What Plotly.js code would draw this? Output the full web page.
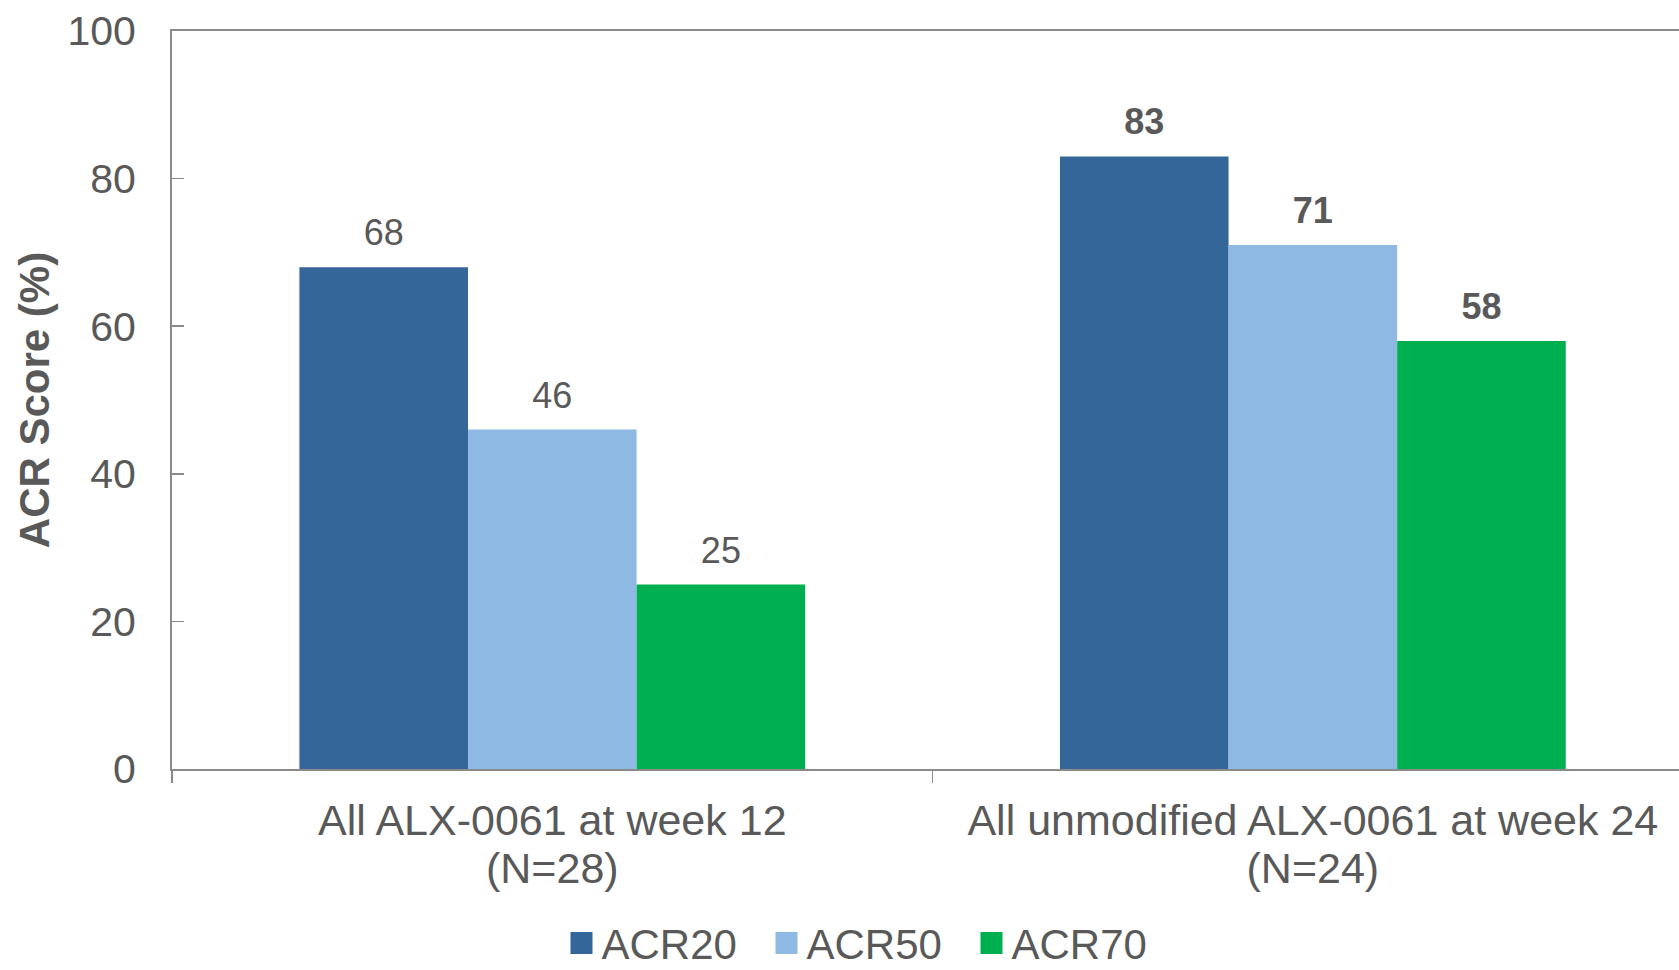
<!DOCTYPE html>
<html>
<head>
<meta charset="utf-8">
<script src="https://cdn.plot.ly/plotly-3.0.1.min.js"></script>
<style>
  html, body { margin: 0; padding: 0; background: #ffffff; overflow: hidden; }
  #chart { width: 1679px; height: 970px; }
</style>
</head>
<body>
<div id="chart"></div>
<script>
// ---- data ----
const categories = ["All ALX-0061 at week 12<br>(N=28)", "All unmodified ALX-0061 at week 24<br>(N=24)"];
const seriesNames = ["ACR20", "ACR50", "ACR70"];
const acr20 = [68, 83];
const acr50 = [46, 71];
const acr70 = [25, 58];
const yTicks = [0, 20, 40, 60, 80, 100];
const labelTemplates = ["%{y}", "<b>%{y}</b>"];

// ---- style ----
const colors = ["#346699", "#8DB9E3", "#00B050"];
const textColor = "#595959";
const axisColor = "#8a8a8a";
const FONT = "Liberation Sans, Arial, sans-serif";

const values = [acr20, acr50, acr70];
const traces = values.map((v, i) => ({
  type: "bar",
  name: seriesNames[i],
  x: categories,
  y: v,
  marker: { color: colors[i], line: { width: 0 } },
  texttemplate: labelTemplates,
  textposition: "outside",
  cliponaxis: false,
  textfont: { family: FONT, size: 36, color: textColor },
  hoverinfo: "skip"
}));

const layout = {
  width: 1679,
  height: 970,
  margin: { l: 172, r: 0, t: 31, b: 201, autoexpand: false },
  paper_bgcolor: "#ffffff",
  plot_bgcolor: "#ffffff",
  font: { family: FONT, color: textColor },
  barmode: "group",
  bargap: 0.335,
  bargroupgap: 0,
  showlegend: true,
  legend: {
    orientation: "h",
    x: 0.4625,
    xanchor: "center",
    y: -0.282,
    yanchor: "bottom",
    borderwidth: 0,
    entrywidth: 160,
    entrywidthmode: "pixels",
    font: { family: FONT, size: 42, color: textColor },
    itemclick: false,
    itemdoubleclick: false
  },
  xaxis: {
    type: "category",
    range: [-0.5, 1.4814],
    showline: true,
    mirror: true,
    linecolor: axisColor,
    linewidth: 2,
    ticks: "outside",
    tickson: "boundaries",
    ticklen: 12,
    tickwidth: 1.5,
    tickcolor: axisColor,
    ticklabelstandoff: 12,
    tickfont: { family: FONT, size: 43, color: textColor },
    showgrid: false,
    zeroline: false,
    fixedrange: true
  },
  yaxis: {
    range: [0, 100],
    tickvals: yTicks,
    ticktext: yTicks.map(String),
    showline: true,
    linecolor: axisColor,
    linewidth: 2,
    ticks: "inside",
    ticklen: 12,
    tickwidth: 1.5,
    tickcolor: axisColor,
    ticklabelstandoff: 26,
    tickfont: { family: FONT, size: 41, color: textColor },
    showgrid: false,
    zeroline: false,
    fixedrange: true,
    title: {
      text: "<b>ACR Score (%)</b>",
      font: { family: FONT, size: 42, color: textColor },
      standoff: 5
    }
  }
};

Plotly.newPlot("chart", traces, layout, { displayModeBar: false, staticPlot: true }).then(gd => {
  // lift value labels a little further above the bars
  gd.querySelectorAll("text.bartext").forEach(t => {
    const tr = t.getAttribute("transform") || "";
    t.setAttribute("transform", "translate(0,-11) " + tr);
  });
  // larger square legend swatches
  gd.querySelectorAll(".legendpoints path").forEach(p => {
    p.setAttribute("d", "M11,11H-11V-11H11Z");
  });
  // tighter line spacing for the two-line category labels
  gd.querySelectorAll(".xtick text tspan.line").forEach(s => {
    const dy = parseFloat(s.getAttribute("dy"));
    if (dy > 0) s.setAttribute("dy", "1.12em");
  });
});
</script>
</body>
</html>
